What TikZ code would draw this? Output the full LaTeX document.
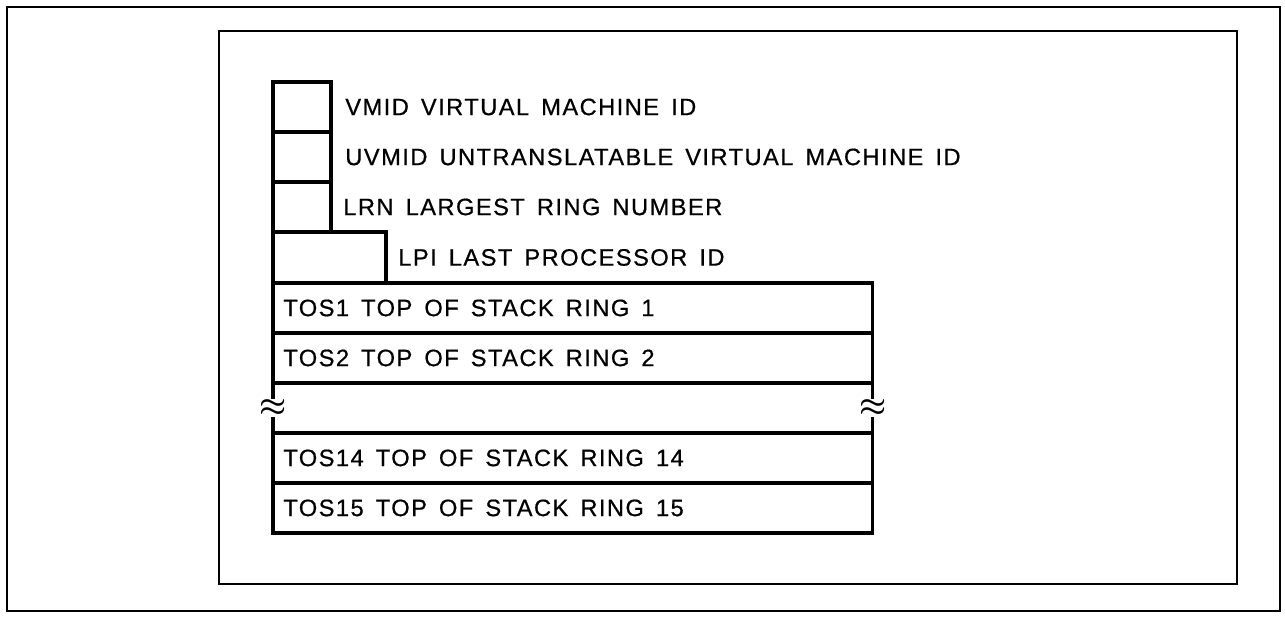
\documentclass[tikz,border=0pt]{standalone}
\usepackage{amsmath}
\usepackage{fontspec}
\setmainfont[LetterSpace=6, WordSpace=1.5, FakeBold=0.6]{Liberation Sans}
\usetikzlibrary{positioning}
\tikzset{
  frame/.style={draw, line width=1.4pt},
  cell/.style={draw, line width=1.8pt, inner sep=0pt, outer sep=0pt, anchor=north west},
  smallcell/.style={cell, minimum width=1.16cm, minimum height=1cm},
  rowcell/.style={cell, minimum width=12cm, minimum height=1cm},
  lbl/.style={font=\fontsize{13.5}{16}\selectfont, inner sep=0pt, anchor=west},
  cut/.style={fill=white, inner sep=0.3pt, font=\fontsize{19}{20}\selectfont}
}
\begin{document}
\begin{tikzpicture}[x=0.02cm, y=-0.02cm]
    \useasboundingbox (0,0) rectangle (1285,616);
    % frames
    \draw[frame] (7,7) rectangle (1280,611);
    \draw[frame] (219,31) rectangle (1237,584);
    % small fields
    \node[smallcell] (vmid) at (273,82) {};
    \node[smallcell] (uvmid) at (vmid.south west) {};
    \node[smallcell] (lrn) at (uvmid.south west) {};
    \node[cell, minimum width=2.26cm, minimum height=1.02cm] (lpi) at (lrn.south west) {};
    \node[lbl, right=0.28cm of vmid.east] (vmidtxt) {VMID VIRTUAL MACHINE ID};
    \node[lbl, right=0.28cm of uvmid.east] (uvmidtxt) {UVMID UNTRANSLATABLE VIRTUAL MACHINE ID};
    \node[lbl, right=0.24cm of lrn.east] (lrntxt) {LRN LARGEST RING NUMBER};
    \node[lbl, right=0.24cm of lpi.east] (lpitxt) {LPI LAST PROCESSOR ID};
    % stack rows
    \node[rowcell] (tos1) at (lpi.south west) {};
    \node[rowcell] (tos2) at (tos1.south west) {};
    \node[rowcell] (gap) at (tos2.south west) {};
    \node[rowcell] (tos14) at (gap.south west) {};
    \node[rowcell] (tos15) at (tos14.south west) {};
    \node[lbl, right=0.2cm of tos1.west] (tos1txt) {TOS1 TOP OF STACK RING 1};
    \node[lbl, right=0.2cm of tos2.west] (tos2txt) {TOS2 TOP OF STACK RING 2};
    \node[lbl, right=0.2cm of tos14.west] (tos14txt) {TOS14 TOP OF STACK RING 14};
    \node[lbl, right=0.2cm of tos15.west] (tos15txt) {TOS15 TOP OF STACK RING 15};
    % breaks
    \node[cut] (cutl) at (gap.west) {$\boldsymbol{\approx}$};
    \node[cut] (cutr) at (gap.east) {$\boldsymbol{\approx}$};
\end{tikzpicture}
\end{document}
